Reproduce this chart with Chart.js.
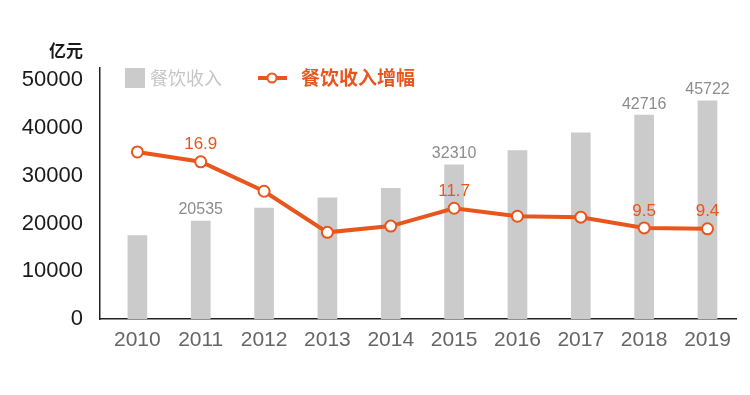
<!DOCTYPE html>
<html>
<head>
<meta charset="utf-8">
<script src="https://cdn.jsdelivr.net/npm/chart.js@4"></script>
<style>
html, body { margin: 0; padding: 0; background: #fff; }
#wrap { width: 750px; height: 395px; position: relative; }
</style>
</head>
<body>
<div id="wrap"><canvas id="foodChart"></canvas></div>
<script>
const years = [2010, 2011, 2012, 2013, 2014, 2015, 2016, 2017, 2018, 2019];
const revenue = [17500, 20535, 23250, 25400, 27400, 32310, 35300, 39000, 42716, 45722];
const growth = [18.0, 16.9, 13.6, 9.0, 9.7, 11.7, 10.8, 10.7, 9.5, 9.4];
const revenueLabelIdx = [1, 5, 8, 9];
const growthLabelIdx = [1, 5, 8, 9];
const yTicks = [0, 10000, 20000, 30000, 40000, 50000];
const unitLabel = '亿元';
const seriesNames = ['餐饮收入', '餐饮收入增幅'];

const ORANGE = '#e8561e';
const BAR = '#cbcbcb';
const NUM_FONT = "'Liberation Sans', Arial, sans-serif";
const CJK_FONT = "'Noto Sans CJK SC', sans-serif";

// legend, unit and the value labels are drawn straight on the canvas
const overlay = {
    id: 'overlay',
    afterDatasetsDraw(chart) {
        const c = chart.ctx;
        const barMeta = chart.getDatasetMeta(0);
        const lineMeta = chart.getDatasetMeta(1);

        c.save();
        c.textAlign = 'center';
        c.textBaseline = 'middle';

        c.font = '16px ' + NUM_FONT;
        c.fillStyle = '#8c8c8c';
        revenueLabelIdx.forEach(i => {
            const el = barMeta.data[i];
            c.fillText(String(revenue[i]), el.x, el.y - 11);
        });

        c.font = '17px ' + NUM_FONT;
        c.fillStyle = ORANGE;
        growthLabelIdx.forEach(i => {
            const el = lineMeta.data[i];
            c.fillText(growth[i].toFixed(1), el.x, el.y - 17);
        });

        // unit above the y axis
        c.font = 'bold 17px ' + CJK_FONT;
        c.fillStyle = '#1a1a1a';
        c.textAlign = 'right';
        c.fillText(unitLabel, 83, 51);

        // legend
        c.textAlign = 'left';
        c.fillStyle = BAR;
        c.fillRect(125, 68, 20, 20);
        c.font = '18px ' + CJK_FONT;
        c.fillStyle = '#c6c6c6';
        c.fillText(seriesNames[0], 150, 78);

        c.strokeStyle = ORANGE;
        c.lineWidth = 4;
        c.beginPath();
        c.moveTo(258, 78);
        c.lineTo(287, 78);
        c.stroke();
        c.beginPath();
        c.arc(272, 78, 4.5, 0, Math.PI * 2);
        c.fillStyle = '#fff';
        c.fill();
        c.lineWidth = 2;
        c.stroke();

        c.font = 'bold 19px ' + CJK_FONT;
        c.fillStyle = ORANGE;
        c.fillText(seriesNames[1], 301, 78);
        c.restore();
    }
};

new Chart(document.getElementById('foodChart'), {
    type: 'bar',
    data: {
        labels: years,
        datasets: [
            {
                label: seriesNames[0],
                data: revenue,
                backgroundColor: BAR,
                barThickness: 19,
                yAxisID: 'y',
                order: 2
            },
            {
                type: 'line',
                label: seriesNames[1],
                data: growth,
                borderColor: ORANGE,
                borderWidth: 4,
                pointRadius: 5.5,
                pointBorderWidth: 2,
                pointBackgroundColor: '#fff',
                pointBorderColor: ORANGE,
                tension: 0,
                yAxisID: 'y1',
                order: 1
            }
        ]
    },
    options: {
        responsive: true,
        maintainAspectRatio: false,
        animation: false,
        layout: { padding: { left: 0, right: 14, top: 68, bottom: 0 } },
        plugins: {
            legend: { display: false },
            tooltip: { enabled: false }
        },
        scales: {
            x: {
                type: 'linear',
                offset: false,
                min: 2009.41,
                max: 2019.45,
                afterBuildTicks: axis => {
                    axis.ticks = years.map(v => ({ value: v }));
                },
                afterFit: axis => { axis.height = 76; },
                grid: { display: false, drawTicks: false },
                border: { display: true, color: '#222', width: 1.5 },
                ticks: {
                    color: '#666',
                    padding: 9,
                    font: { family: NUM_FONT, size: 21 },
                    callback: v => String(v)
                }
            },
            y: {
                min: 0,
                max: 52600,
                afterBuildTicks: axis => {
                    axis.ticks = yTicks.map(v => ({ value: v }));
                },
                afterFit: axis => { axis.width = 100; },
                grid: { display: false, drawTicks: false },
                border: { display: true, color: '#222', width: 1.5 },
                ticks: {
                    color: '#1a1a1a',
                    padding: 17,
                    font: { family: NUM_FONT, size: 22 },
                    callback: v => String(v)
                }
            },
            y1: {
                display: false,
                position: 'right',
                min: -0.7,
                max: 27.4
            }
        }
    },
    plugins: [overlay]
});
</script>
</body>
</html>
